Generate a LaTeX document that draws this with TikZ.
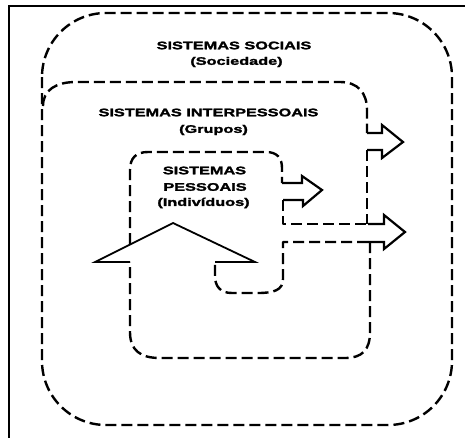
\documentclass[tikz,border=0pt]{standalone}
\usepackage{fontspec}
\newfontfamily\lab{Liberation Sans}[FakeStretch=1.48,FakeBold=2]
\begin{document}
\begin{tikzpicture}[x=1pt,y=-1pt,
  dsh/.style={line width=2.4pt,dash pattern=on 11pt off 5pt,line join=round},
  sol/.style={line width=2.2pt,line join=miter},
  solidarrow/.style={line width=1.8pt,line join=miter},
  lbl/.style={font=\lab\bfseries\fontsize{11}{13}\selectfont,inner sep=0pt}]
\useasboundingbox (0,0) rectangle (465,437);
% frame
\draw[line width=1.3pt] (9,440) -- (9,6) -- (468,6);
% social system
\draw[dsh,rounded corners=64pt] (42,13) rectangle (452,425);
% interpersonal system (upper part)
\draw[dsh] (43,106) .. controls (43,90) and (56,82) .. (76,82) -- (340,82)
  .. controls (358,82) and (367,93) .. (367,110) -- (367,133);
\draw[sol] (367,133) -- (382,133) -- (382,125) -- (403,142) -- (382,158) -- (382,150) -- (367,150);
\draw[dsh] (367,150) -- (367,224);
% personal system and arrows
\draw[dsh] (130,244) -- (130,170) .. controls (130,158) and (136,152) .. (148,152)
  -- (266,152) .. controls (277,152) and (282,158) .. (282,168) -- (282,183);
\draw[sol] (282,183) -- (302,183) -- (302,176) -- (322,190) -- (303,206) -- (303,200) -- (283,200);
\draw[dsh] (283,200) -- (283,224) -- (368,224);
\draw[sol] (368,224) -- (384,224) -- (384,215) -- (405,232) -- (384,249) -- (384,242) -- (368,242);
\draw[dsh] (368,242) -- (283,242) -- (283,279) .. controls (283,290) and (274,293) .. (258,293)
  -- (232,293) .. controls (220,293) and (215,286) .. (215,276) -- (215,262);
% interpersonal system (lower part)
\draw[dsh] (370,242) -- (370,332) .. controls (370,350) and (362,358) .. (345,358)
  -- (160,358) .. controls (140,358) and (130,350) .. (130,332) -- (130,262);
% big arrow
\draw[solidarrow] (130,262) -- (95,262) -- (173,223) -- (255,262) -- (215,262);
% labels
\node[lbl] (soc1) at (234,45.5) {SISTEMAS SOCIAIS};
\node[lbl] (soc2) at (236.5,62) {(Sociedade)};
\node[lbl] (int1) at (208.5,112.5) {SISTEMAS INTERPESSOAIS};
\node[lbl] (int2) at (213.5,130) {(Grupos)};
\node[lbl] (per1) at (204.5,170.5) {SISTEMAS};
\node[lbl] (per2) at (205,187) {PESSOAIS};
\node[lbl] (per3) at (203.5,203) {(Indivíduos)};
\end{tikzpicture}
\end{document}
